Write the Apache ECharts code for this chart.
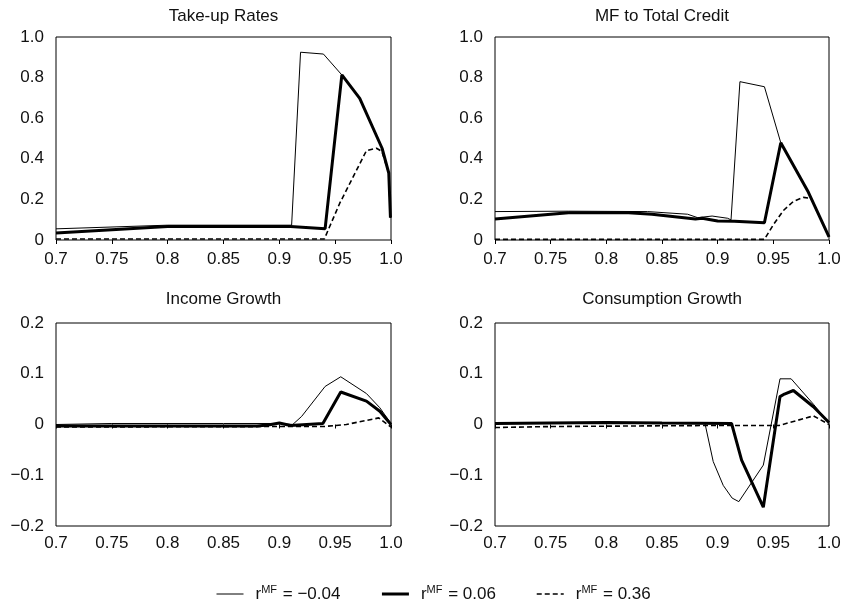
<!DOCTYPE html>
<html>
<head>
<meta charset="utf-8">
<script src="https://cdn.jsdelivr.net/npm/echarts@6/dist/echarts.min.js"></script>
<style>
html,body{margin:0;padding:0;background:#fff;}
#chart{width:844px;height:602px;}
</style>
</head>
<body>
<div id="chart"></div>
<script>
// ---- tick labels ----
const xTickLabels = ['0.7', '0.75', '0.8', '0.85', '0.9', '0.95', '1.0'];
const yTickLabelsTop = ['0', '0.2', '0.4', '0.6', '0.8', '1.0'];
const yTickLabelsBottom = ['\u22120.2', '\u22120.1', '0', '0.1', '0.2'];
const panelTitles = ['Take-up Rates', 'MF to Total Credit', 'Income Growth', 'Consumption Growth'];
const rateValues = ['\u22120.04', '0.06', '0.36'];

// ---- Take-up Rates ----
const takeupThinX = [0.7, 0.8, 0.911, 0.919, 0.9395, 0.956, 0.972, 0.992, 0.998, 0.9995];
const takeupThinY = [0.055, 0.073, 0.073, 0.925, 0.916, 0.813, 0.698, 0.452, 0.33, 0.11];
const takeupThickX = [0.7, 0.8, 0.91, 0.941, 0.956, 0.972, 0.992, 0.998, 0.9995];
const takeupThickY = [0.035, 0.066, 0.066, 0.056, 0.813, 0.698, 0.452, 0.33, 0.11];
const takeupDashX = [0.7, 0.9403, 0.954, 0.978, 0.987, 0.9918, 0.998, 0.9995];
const takeupDashY = [0.005, 0.005, 0.18, 0.44, 0.452, 0.437, 0.33, 0.11];

// ---- MF to Total Credit ----
const mfThinX = [0.7, 0.766, 0.837, 0.873, 0.882, 0.895, 0.909, 0.912, 0.92, 0.942, 0.9567, 0.9815, 1.0];
const mfThinY = [0.14, 0.142, 0.14, 0.127, 0.11, 0.118, 0.107, 0.099, 0.78, 0.755, 0.479, 0.235, 0.015];
const mfThickX = [0.7, 0.766, 0.82, 0.841, 0.88, 0.886, 0.9, 0.915, 0.942, 0.9567, 0.9815, 1.0];
const mfThickY = [0.103, 0.134, 0.134, 0.127, 0.103, 0.107, 0.094, 0.092, 0.085, 0.479, 0.235, 0.015];
const mfDashX = [0.7, 0.942, 0.95, 0.959, 0.968, 0.977, 0.984, 1.0];
const mfDashY = [0.003, 0.003, 0.075, 0.145, 0.19, 0.21, 0.205, 0.015];

// ---- Income Growth ----
const incThinX = [0.7, 0.75, 0.85, 0.9, 0.912, 0.92, 0.941, 0.955, 0.978, 0.99, 0.999, 1.0];
const incThinY = [0.0, 0.002, 0.002, 0.002, 0.0, 0.016, 0.075, 0.094, 0.061, 0.033, 0.005, -0.003];
const incThickX = [0.7, 0.8, 0.88, 0.89, 0.9, 0.91, 0.939, 0.955, 0.978, 0.99, 1.0];
const incThickY = [-0.003, -0.003, -0.003, -0.001, 0.003, -0.002, 0.002, 0.064, 0.046, 0.026, 0.0];
const incDashX = [0.7, 0.9, 0.94, 0.96, 0.989, 1.0];
const incDashY = [-0.005, -0.004, -0.004, 0.0, 0.013, -0.005];

// ---- Consumption Growth ----
const conThinX = [0.7, 0.75, 0.8, 0.85, 0.8886, 0.896, 0.905, 0.913, 0.919, 0.941, 0.956, 0.966, 0.974, 0.986, 1.0];
const conThinY = [0.002, 0.003, 0.004, 0.003, 0.002, -0.073, -0.12, -0.145, -0.152, -0.08, 0.09, 0.09, 0.07, 0.04, 0.003];
const conThickX = [0.7, 0.75, 0.8, 0.85, 0.9125, 0.9215, 0.941, 0.956, 0.96, 0.968, 0.986, 1.0];
const conThickY = [0.002, 0.003, 0.004, 0.003, 0.002, -0.07, -0.163, 0.055, 0.06, 0.067, 0.035, 0.004];
const conDashX = [0.7, 0.75, 0.89, 0.955, 0.986, 1.0];
const conDashY = [-0.006, -0.004, -0.002, -0.002, 0.017, 0.0];

const panels = [
  [[takeupThinX, takeupThinY], [takeupThickX, takeupThickY], [takeupDashX, takeupDashY]],
  [[mfThinX, mfThinY], [mfThickX, mfThickY], [mfDashX, mfDashY]],
  [[incThinX, incThinY], [incThickX, incThickY], [incDashX, incDashY]],
  [[conThinX, conThinY], [conThickX, conThickY], [conDashX, conDashY]]
];

const FONT = 'Liberation Sans, Arial, sans-serif';
const TXT = '#111';
const gridBoxes = [
  {left: 56, top: 37, width: 335, height: 203},
  {left: 495, top: 37, width: 334, height: 203},
  {left: 56, top: 323, width: 335, height: 203},
  {left: 495, top: 323, width: 334, height: 203}
];
const lineStyles = [
  {color: '#000', width: 1, type: 'solid'},
  {color: '#000', width: 3, type: 'solid'},
  {color: '#000', width: 1.6, type: [5, 3]}
];
const seriesNames = rateValues.map(v => 'rMF = ' + v);

const zip = (xs, ys) => xs.map((x, i) => [x, ys[i]]);

const option = {
  animation: false,
  backgroundColor: '#fff',
  title: panelTitles.map((t, i) => ({
    text: t,
    left: gridBoxes[i].left + gridBoxes[i].width / 2,
    top: i < 2 ? 8 : 291,
    textAlign: 'center',
    padding: 0,
    textStyle: {fontFamily: FONT, fontSize: 17, fontWeight: 'normal', color: TXT}
  })),
  grid: gridBoxes.map(b => Object.assign({show: true, borderColor: '#000', borderWidth: 1, containLabel: false}, b)),
  xAxis: gridBoxes.map((b, i) => ({
    type: 'value', gridIndex: i, min: 0.7, max: 1.0, interval: 0.05,
    axisLine: {show: false},
    axisTick: {show: true, inside: false, length: 4, lineStyle: {color: '#000'}},
    splitLine: {show: false},
    axisLabel: {
      margin: i < 2 ? 11 : 9, fontFamily: FONT, fontSize: 17, color: TXT,
      formatter: v => xTickLabels[Math.round((v - 0.7) / 0.05)]
    }
  })),
  yAxis: gridBoxes.map((b, i) => i < 2 ? ({
    type: 'value', gridIndex: i, min: 0, max: 1, interval: 0.2,
    axisLine: {show: false}, axisTick: {show: false}, splitLine: {show: false},
    axisLabel: {margin: 12, fontFamily: FONT, fontSize: 17, color: TXT,
      formatter: v => yTickLabelsTop[Math.round(v / 0.2)]}
  }) : ({
    type: 'value', gridIndex: i, min: -0.2, max: 0.2, interval: 0.1,
    axisLine: {show: false}, axisTick: {show: false}, splitLine: {show: false},
    axisLabel: {margin: 12, fontFamily: FONT, fontSize: 17, color: TXT,
      formatter: v => yTickLabelsBottom[Math.round((v + 0.2) / 0.1)]}
  })),
  legend: {
    data: seriesNames.map((n, i) => ({
      name: n,
      lineStyle: {width: lineStyles[i].width, type: lineStyles[i].type, color: '#000'},
      itemStyle: {color: 'rgba(0,0,0,0)', borderWidth: 0, opacity: 0}
    })),
    left: 216, top: 584,
    itemWidth: 27, itemHeight: 14, itemGap: 40,
    padding: 0,
    itemStyle: {color: 'rgba(0,0,0,0)', borderWidth: 0, opacity: 0},
    formatter: name => '{g|}{n|r}{s|MF}{n| = ' + name.split('= ')[1] + '}',
    textStyle: {
      fontFamily: FONT, fontSize: 17, color: TXT,
      rich: {
        g: {width: 7},
        n: {fontFamily: FONT, fontSize: 17, color: TXT, lineHeight: 20},
        s: {fontFamily: FONT, fontSize: 11, color: TXT, lineHeight: 20, padding: [0, 1, 9, 0]}
      }
    }
  },
  series: []
};

panels.forEach((panel, pi) => {
  panel.forEach((pair, si) => {
    option.series.push({
      type: 'line',
      name: seriesNames[si],
      xAxisIndex: pi, yAxisIndex: pi,
      data: zip(pair[0], pair[1]),
      symbol: 'none',
      lineStyle: lineStyles[si],
      itemStyle: {color: '#000'},
      z: si === 1 ? 3 : 2
    });
  });
});

const chart = echarts.init(document.getElementById('chart'), null, {renderer: 'canvas'});
chart.setOption(option);
</script>
</body>
</html>
